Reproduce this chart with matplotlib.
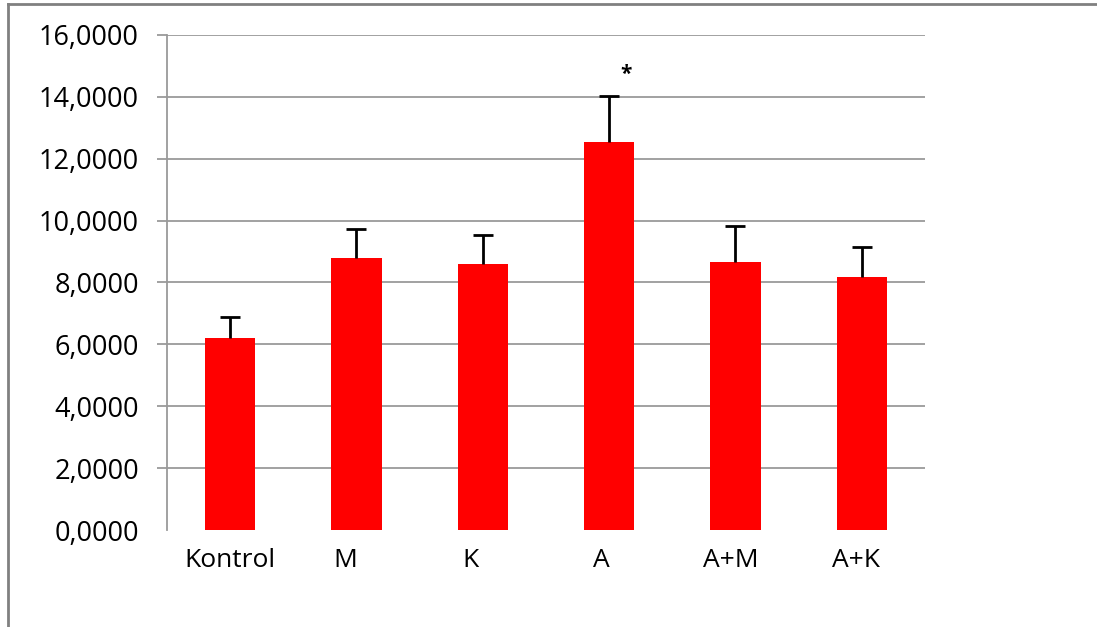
import matplotlib
matplotlib.use('agg')
from matplotlib import pyplot as plt
from matplotlib.lines import Line2D
from matplotlib.ticker import FuncFormatter
from matplotlib.transforms import ScaledTranslation

plt.rcParams['font.family'] = ['Open Sans', 'DejaVu Sans']

groups = ['Kontrol', 'M', 'K', 'A', 'A+M', 'A+K']
means = [6.21, 8.79, 8.60, 12.54, 8.66, 8.18]
errors = [0.67, 0.94, 0.93, 1.49, 1.17, 0.97]
marks = ['', '', '', '*', '', '']
yticks = [0, 2, 4, 6, 8, 10, 12, 14, 16]

# small horizontal nudges of the category labels (pixels) as in the original
label_shift = [0, -11, -12, -8, -5, -6]

fig = plt.figure(figsize=(10.97, 6.27), dpi=100)
ax = fig.add_axes([0.1522, 0.1547, 0.6910, 0.7895])

x = list(range(len(groups)))
ax.bar(x, means, width=0.4, color='#ff0000', zorder=3)
_, caps, _ = ax.errorbar(x, means, yerr=[[0] * len(means), errors], fmt='none',
                         ecolor='black', elinewidth=2, capsize=7, capthick=2, zorder=4)
# one-sided bars: hide the lower caps
caps[0].set_visible(False)

for xi, m, e, s in zip(x, means, errors, marks):
    if s:
        ax.text(xi + 0.13, m + e + 0.35, s, ha='center', va='bottom',
                fontsize=15, fontweight='bold')

ax.set_xlim(-0.5, len(groups) - 0.5)
ax.set_ylim(0, 16)
ax.set_yticks(yticks)
ax.yaxis.set_major_formatter(FuncFormatter(lambda v, _: f'{v:.4f}'.replace('.', ',')))
ax.set_xticks(x)
ax.set_xticklabels(groups)

ax.tick_params(axis='y', length=7.2, width=1.3, color='#9a9a9a', labelsize=19.5, pad=13)
ax.tick_params(axis='x', length=0, labelsize=19, pad=13)
ax.yaxis.grid(True, color='#9a9a9a', linewidth=1.3, zorder=0)
ax.set_axisbelow(True)

for lbl, dx in zip(ax.get_xticklabels(), label_shift):
    lbl.set_transform(lbl.get_transform() + ScaledTranslation(dx / 100, 0, fig.dpi_scale_trans))

t0 = ax.yaxis.get_major_ticks()[0]
t0.tick1line.set_visible(False)
t0.gridline.set_visible(False)

for side in ('top', 'right', 'bottom'):
    ax.spines[side].set_visible(False)
ax.spines['left'].set_color('#9a9a9a')
ax.spines['left'].set_linewidth(1.3)

# grey frame from the original chart area
fig.add_artist(Line2D([8 / 1097, 8 / 1097], [0, 1 - 4 / 627], color='#808080', linewidth=2))
fig.add_artist(Line2D([8 / 1097, 1], [1 - 4 / 627, 1 - 4 / 627], color='#808080', linewidth=2))

fig.savefig('out.png', dpi=100)
plt.close(fig)
